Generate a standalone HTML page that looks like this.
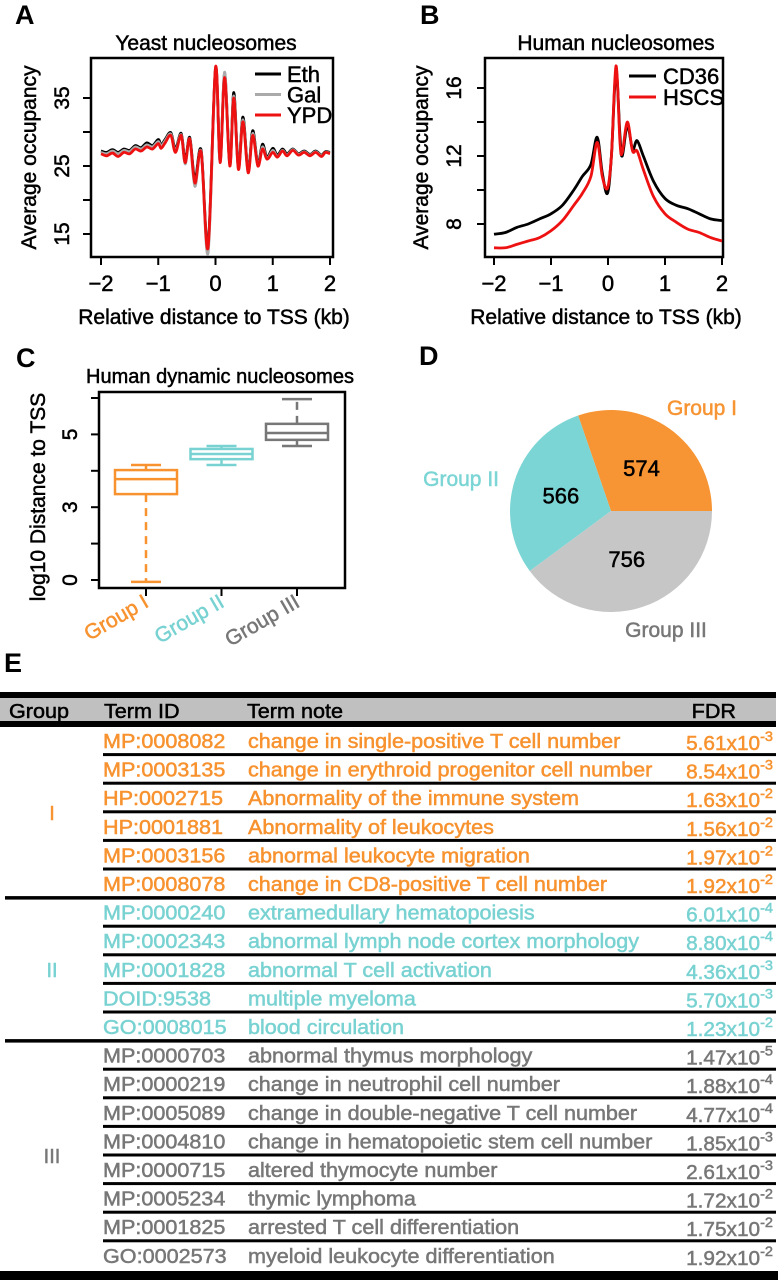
<!DOCTYPE html>
<html><head><meta charset="utf-8"><style>
html,body{margin:0;padding:0;background:#fff;}
svg{display:block;font-family:"Liberation Sans",Arial,sans-serif;}
</style></head><body>
<svg id="fig" width="778" height="1280" viewBox="0 0 778 1280" xmlns="http://www.w3.org/2000/svg">
<g id="gA"></g>
<g id="gB"></g>
<g id="gC"></g>
<g id="gD"></g>
<g id="gE"></g>
</svg>
<script>
// ---- Panel A data ----
const yeastX = [-2,-1.9,-1.8,-1.7,-1.6,-1.5,-1.4,-1.3,-1.2,-1.1,-1.0,-0.95,-0.88,-0.78,-0.7,-0.6,-0.53,-0.45,-0.36,-0.25,-0.13,0,0.08,0.16,0.25,0.32,0.40,0.48,0.57,0.65,0.74,0.82,0.90,1.0,1.08,1.17,1.25,1.35,1.45,1.55,1.65,1.75,1.85,1.92,2.0];
const yeastEth = [27.2,27.0,27.4,27.0,27.5,27.3,28.0,27.7,28.4,28.0,28.9,28.1,28.9,29.9,27.5,29.8,25.8,29.2,23.0,27.3,13.2,39.3,25.7,38.5,25.3,35.8,24.8,32.2,24.3,30.2,25.3,28.2,26.3,27.6,26.6,27.5,26.8,27.5,26.8,27.2,26.7,27.2,26.6,27.1,27.0];
const yeastGal = [27.0,26.8,27.2,26.8,27.3,27.1,27.8,27.5,28.1,27.8,28.6,27.9,28.7,29.7,27.2,29.6,25.3,29.0,22.0,27.1,12.2,39.0,25.6,38.8,25.2,35.3,24.6,31.8,24.1,29.8,25.1,27.8,26.1,27.3,26.4,27.3,26.6,27.4,26.7,27.1,26.6,27.1,26.5,27.0,26.9];
const yeastYPD = [26.8,26.5,26.9,26.4,27.0,26.8,27.5,27.2,27.8,27.5,28.3,27.6,28.4,29.5,27.0,29.5,25.5,29.0,22.5,27.0,13.0,39.5,25.5,38.0,25.0,35.0,24.5,31.5,24.0,29.5,25.0,27.5,26.0,27.0,26.3,27.2,26.5,27.3,26.6,27.0,26.5,27.0,26.4,27.0,26.8];
const yeastYTicks = [15,20,25,30,35];
const yeastYLabels = ["15","","25","","35"];
const xTicks = [-2,-1,0,1,2];
const xTickLabels = ["\u22122","\u22121","0","1","2"];
// ---- Panel B data ----
const humanX = [-2,-1.8,-1.6,-1.4,-1.2,-1.0,-0.8,-0.6,-0.45,-0.3,-0.19,-0.1,-0.01,0.06,0.14,0.21,0.25,0.34,0.43,0.51,0.62,0.8,1.0,1.2,1.4,1.6,1.8,2.0];
const humanCD36 = [7.4,7.5,7.8,8.0,8.3,8.6,9.1,10.0,10.8,11.5,13.1,11.0,9.8,12.0,17.0,13.2,12.0,13.8,12.4,12.9,12.0,10.5,9.5,9.1,8.9,8.6,8.3,8.2];
const humanHSCS = [6.6,6.6,6.8,7.0,7.2,7.6,8.2,9.1,9.8,10.8,12.8,10.8,10.1,12.0,17.3,12.8,12.2,14.0,12.3,12.3,11.2,9.6,8.6,8.1,7.7,7.5,7.2,7.0];
const humanYTicks = [8,10,12,14,16];
const humanYLabels = ["8","","12","","16"];
// ---- Panel C data (in axis tick units) ----
const boxGroups = ["Group I","Group II","Group III"];
const boxMin = [-0.05,3.16,3.68];
const boxQ1 = [2.36,3.32,3.85];
const boxMed = [2.77,3.46,4.04];
const boxQ3 = [3.02,3.60,4.29];
const boxMax = [3.16,3.68,4.97];
const boxYTicks = [0,1,2,3,4,5];
const boxYLabels = ["0","","3","","5",""];
// ---- Panel D data ----
const pieLabels = ["Group I","Group II","Group III"];
const pieValues = [574,566,756];
// ---- Panel E data ----
const rowGroup = [1,1,1,1,1,1,2,2,2,2,2,3,3,3,3,3,3,3,3];
const rowIds = ["MP:0008082","MP:0003135","HP:0002715","HP:0001881","MP:0003156","MP:0008078","MP:0000240","MP:0002343","MP:0001828","DOID:9538","GO:0008015","MP:0000703","MP:0000219","MP:0005089","MP:0004810","MP:0000715","MP:0005234","MP:0001825","GO:0002573"];
const rowNotes = ["change in single-positive T cell number","change in erythroid progenitor cell number","Abnormality of the immune system","Abnormality of leukocytes","abnormal leukocyte migration","change in CD8-positive T cell number","extramedullary hematopoiesis","abnormal lymph node cortex morphology","abnormal T cell activation","multiple myeloma","blood circulation","abnormal thymus morphology","change in neutrophil cell number","change in double-negative T cell number","change in hematopoietic stem cell number","altered thymocyte number","thymic lymphoma","arrested T cell differentiation","myeloid leukocyte differentiation"];
const rowFdrMant = ["5.61","8.54","1.63","1.56","1.97","1.92","6.01","8.80","4.36","5.70","1.23","1.47","1.88","4.77","1.85","2.61","1.72","1.75","1.92"];
const rowFdrExp = ["-3","-3","-2","-2","-2","-2","-4","-4","-3","-3","-2","-5","-4","-4","-3","-3","-2","-2","-2"];
const groupNames = ["I","II","III"];

const NS = "http://www.w3.org/2000/svg";
const ORANGE = "#f7922f", TEAL = "#79d2d2", GRAY = "#777777";
const groupColors = [ORANGE, TEAL, GRAY];

function mk(parent, tag, attrs, name) {
  const el = document.createElementNS(NS, tag);
  for (const k in attrs) el.setAttribute(k, attrs[k]);
  
  
  parent.appendChild(el);
  return el;
}
function txt(parent, x, y, s, size, name, opts) {
  opts = opts || {};
  const sx = opts.sx || 1;
  const rot = opts.rot || 0;
  const el = document.createElementNS(NS, 'text');
  el.setAttribute('transform', 'translate(' + x + ',' + y + ') rotate(' + rot + ') scale(' + sx + ',1)');
  el.setAttribute('font-size', size);
  el.setAttribute('fill', opts.fill || '#000');
  el.setAttribute('stroke', opts.fill || '#000');
  el.setAttribute('stroke-width', opts.weight ? 0 : 0.5);
  if (opts.anchor) el.setAttribute('text-anchor', opts.anchor);
  if (opts.weight) el.setAttribute('font-weight', opts.weight);
  el.textContent = s;
  
  
  parent.appendChild(el);
  return el;
}
function smooth(pts) {
  let d = 'M' + pts[0][0].toFixed(2) + ',' + pts[0][1].toFixed(2);
  for (let i = 0; i < pts.length - 1; i++) {
    const p0 = pts[i - 1] || pts[i], p1 = pts[i], p2 = pts[i + 1], p3 = pts[i + 2] || p2;
    const c1 = [p1[0] + (p2[0] - p0[0]) / 6, p1[1] + (p2[1] - p0[1]) / 6];
    const c2 = [p2[0] - (p3[0] - p1[0]) / 6, p2[1] - (p3[1] - p1[1]) / 6];
    d += ' C' + c1[0].toFixed(2) + ',' + c1[1].toFixed(2) + ' ' + c2[0].toFixed(2) + ',' + c2[1].toFixed(2) + ' ' + p2[0].toFixed(2) + ',' + p2[1].toFixed(2);
  }
  return d;
}
function lineChart(g, box, xs, yScale, xScale, yTicks, yLabels, series, title, titleX, panel, panelX, yTitleX, yTickLabX) {
  mk(g, 'rect', {x: box[0], y: box[1], width: box[2] - box[0], height: box[3] - box[1], fill: 'none', stroke: '#000', 'stroke-width': 2.5}, 'plot-frame');
  yTicks.forEach((t, i) => {
    const y = yScale(t);
    mk(g, 'line', {x1: box[0], x2: box[0] - 8, y1: y, y2: y, stroke: '#000', 'stroke-width': 2}, 'y-tick');
    if (yLabels[i]) txt(g, yTickLabX, y, yLabels[i], 21, 'y-tick-label', {rot: -90, anchor: 'middle'});
  });
  mk(g, 'line', {x1: box[0], x2: box[0], y1: yScale(yTicks[0]), y2: yScale(yTicks[yTicks.length - 1]), stroke: '#000', 'stroke-width': 2}, 'y-axis-line');
  xTicks.forEach((t, i) => {
    const x = xScale(t);
    mk(g, 'line', {x1: x, x2: x, y1: box[3], y2: box[3] + 8, stroke: '#000', 'stroke-width': 2}, 'x-tick');
    txt(g, x, box[3] + 34, xTickLabels[i], 22, 'x-tick-label', {anchor: 'middle'});
  });
  mk(g, 'line', {x1: xScale(-2), x2: xScale(2), y1: box[3], y2: box[3], stroke: '#000', 'stroke-width': 2}, 'x-axis-line');
  series.forEach(s => {
    const pts = xs.map((x, i) => [xScale(x), yScale(s.vals[i])]);
    mk(g, 'path', {d: smooth(pts), fill: 'none', stroke: s.color, 'stroke-width': 2.8, 'stroke-linejoin': 'round'}, s.name + '-line');
  });
  txt(g, titleX, 50, title, 21, 'chart-title', {anchor: 'middle'});
  txt(g, panelX, 24, panel, 27, 'panel-label', {weight: 'bold'});
  txt(g, yTitleX, (box[1] + box[3]) / 2, 'Average occupancy', 21, 'y-axis-title', {rot: -90, anchor: 'middle'});
  txt(g, (box[0] + box[2]) / 2 + 2, 324, 'Relative distance to TSS (kb)', 21, 'x-axis-title', {anchor: 'middle'});
}

// Panel A
(function () {
  const g = document.getElementById('gA');
  const xS = v => 101 + (v + 2) * (229 / 4);
  const yS = v => 166 - (v - 25) * 6.8;
  lineChart(g, [91, 58, 333, 257], yeastX, yS, xS, yeastYTicks, yeastYLabels,
    [{vals: yeastEth, color: '#000', name: 'eth'}, {vals: yeastGal, color: '#aaaaaa', name: 'gal'}, {vals: yeastYPD, color: '#ee1111', name: 'ypd'}],
    'Yeast nucleosomes', 206, 'A', 15, 36, 69);
  const leg = [['Eth', '#000'], ['Gal', '#aaaaaa'], ['YPD', '#ee1111']];
  leg.forEach((l, i) => {
    const y = 74 + i * 20.5;
    mk(g, 'line', {x1: 255, x2: 281, y1: y, y2: y, stroke: l[1], 'stroke-width': 3}, 'legend-swatch');
    txt(g, 287, y + 8, l[0], 22, 'legend-entry');
  });
})();
// Panel B
(function () {
  const g = document.getElementById('gB');
  const xS = v => 494 + (v + 2) * (228 / 4);
  const yS = v => 156 - (v - 12) * 17;
  lineChart(g, [485, 58, 723, 257], humanX, yS, xS, humanYTicks, humanYLabels,
    [{vals: humanCD36, color: '#000', name: 'cd36'}, {vals: humanHSCS, color: '#ee1111', name: 'hscs'}],
    'Human nucleosomes', 616, 'B', 420, 428, 461);
  const leg = [['CD36', '#000'], ['HSCS', '#ee1111']];
  leg.forEach((l, i) => {
    const y = 76 + i * 21;
    mk(g, 'line', {x1: 629, x2: 656, y1: y, y2: y, stroke: l[1], 'stroke-width': 3}, 'legend-swatch');
    txt(g, 663, y + 8, l[0], 22, 'legend-entry');
  });
})();
// Panel C
(function () {
  const g = document.getElementById('gC');
  const yS = v => 580 - v * 36.4;
  const xS = i => 146 + i * 75.5;
  mk(g, 'rect', {x: 99, y: 392, width: 246, height: 196, fill: 'none', stroke: '#000', 'stroke-width': 2.5}, 'plot-frame');
  boxYTicks.forEach((t, i) => {
    const y = yS(t);
    mk(g, 'line', {x1: 99, x2: 91, y1: y, y2: y, stroke: '#000', 'stroke-width': 2}, 'y-tick');
    if (boxYLabels[i]) txt(g, 77, y, boxYLabels[i], 21, 'y-tick-label', {rot: -90, anchor: 'middle'});
  });
  mk(g, 'line', {x1: 99, x2: 99, y1: yS(0), y2: yS(5), stroke: '#000', 'stroke-width': 2}, 'y-axis-line');
  boxGroups.forEach((name, i) => {
    const x = xS(i), c = groupColors[i], hw = 31;
    mk(g, 'line', {x1: x, x2: x, y1: 588, y2: 596, stroke: '#000', 'stroke-width': 2}, 'x-tick');
    mk(g, 'line', {x1: x, x2: x, y1: yS(boxQ1[i]), y2: yS(boxMin[i]), stroke: c, 'stroke-width': 2.5, 'stroke-dasharray': '8,6'}, 'lower-whisker');
    mk(g, 'line', {x1: x, x2: x, y1: yS(boxQ3[i]), y2: yS(boxMax[i]), stroke: c, 'stroke-width': 2.5, 'stroke-dasharray': '8,6'}, 'upper-whisker');
    mk(g, 'line', {x1: x - 15, x2: x + 15, y1: yS(boxMin[i]), y2: yS(boxMin[i]), stroke: c, 'stroke-width': 2.5}, 'whisker-cap-min');
    mk(g, 'line', {x1: x - 15, x2: x + 15, y1: yS(boxMax[i]), y2: yS(boxMax[i]), stroke: c, 'stroke-width': 2.5}, 'whisker-cap-max');
    mk(g, 'rect', {x: x - hw, y: yS(boxQ3[i]), width: 2 * hw, height: yS(boxQ1[i]) - yS(boxQ3[i]), fill: '#fff', stroke: c, 'stroke-width': 2.5}, 'box-' + (i + 1));
    mk(g, 'line', {x1: x - hw, x2: x + hw, y1: yS(boxMed[i]), y2: yS(boxMed[i]), stroke: c, 'stroke-width': 2.5}, 'median-line');
    txt(g, x + 4, 606, name, 21, 'x-category-label', {rot: -30, anchor: 'end', fill: c});
  });
  txt(g, 16, 367, 'C', 27, 'panel-label', {weight: 'bold'});
  txt(g, 220, 383, 'Human dynamic nucleosomes', 20, 'chart-title', {anchor: 'middle'});
  txt(g, 45, 497, 'log10 Distance to TSS', 21, 'y-axis-title', {rot: -90, anchor: 'middle'});
})();
// Panel D
(function () {
  const g = document.getElementById('gD');
  const cx = 611, cy = 511, r = 101;
  const pieColors = ['#f79433', '#7cd5d5', '#c6c6c6'];
  const total = pieValues.reduce((a, b) => a + b, 0);
  let a0 = 0;
  const labelPos = [[702, 415, 'middle'], [499, 486, 'end'], [666, 637, 'middle']];
  pieValues.forEach((v, i) => {
    const a1 = a0 + v / total * 2 * Math.PI;
    const p0 = [cx + r * Math.cos(a0), cy - r * Math.sin(a0)];
    const p1 = [cx + r * Math.cos(a1), cy - r * Math.sin(a1)];
    const large = (a1 - a0) > Math.PI ? 1 : 0;
    mk(g, 'path', {d: 'M' + cx + ',' + cy + ' L' + p0[0] + ',' + p0[1] + ' A' + r + ',' + r + ' 0 ' + large + ' 0 ' + p1[0] + ',' + p1[1] + ' Z', fill: pieColors[i]}, 'pie-slice-' + (i + 1));
    const am = (a0 + a1) / 2;
    const rr = i === 2 ? 0.5 : 0.52;
    txt(g, cx + rr * r * Math.cos(am), cy - rr * r * Math.sin(am) + 8, String(v), 22, 'slice-value', {anchor: 'middle'});
    txt(g, labelPos[i][0], labelPos[i][1], pieLabels[i], 21, 'slice-label', {anchor: labelPos[i][2], fill: i === 2 ? GRAY : pieColors[i]});
    a0 = a1;
  });
  txt(g, 419, 365, 'D', 27, 'panel-label', {weight: 'bold'});
})();
// Panel E
(function () {
  const g = document.getElementById('gE');
  const SX = 1.08;
  txt(g, 4, 672, 'E', 27, 'panel-label', {weight: 'bold'});
  mk(g, 'rect', {x: 0, y: 698, width: 776, height: 24, fill: '#c0c0c0'}, 'header-background');
  mk(g, 'rect', {x: 0, y: 692, width: 776, height: 6, fill: '#000'}, 'header-top-rule');
  mk(g, 'rect', {x: 0, y: 721, width: 776, height: 6, fill: '#000'}, 'header-bottom-rule');
  txt(g, 9, 718, 'Group', 20, 'header-group', {sx: SX});
  txt(g, 104, 718, 'Term ID', 20, 'header-term-id', {sx: SX});
  txt(g, 247, 718, 'Term note', 20, 'header-term-note', {sx: SX});
  txt(g, 736, 718, 'FDR', 20, 'header-fdr', {sx: SX, anchor: 'end'});
  const top = 727, pitch = 28.6;
  rowIds.forEach((id, i) => {
    const rt = top + i * pitch;
    const c = groupColors[rowGroup[i] - 1];
    txt(g, 103, rt + 21, id, 20, 'term-id-cell', {sx: SX, fill: c});
    txt(g, 248, rt + 21, rowNotes[i], 20, 'term-note-cell', {sx: SX, fill: c});
    const f = txt(g, 773, rt + 23, '', 20, 'fdr-cell', {sx: 1.04, fill: c, anchor: 'end'});
    const m = document.createElementNS(NS, 'tspan');
    m.textContent = rowFdrMant[i] + 'x10';
    f.appendChild(m);
    const e = document.createElementNS(NS, 'tspan');
    e.setAttribute('font-size', 14);
    e.setAttribute('dy', -9);
    e.textContent = rowFdrExp[i];
    f.appendChild(e);
    const last = i === rowIds.length - 1;
    const grpEnd = !last && rowGroup[i + 1] !== rowGroup[i];
    if (!last) {
      mk(g, 'rect', {x: grpEnd ? 5 : 103, y: rt + pitch - 2.5, width: grpEnd ? 771 : 673, height: grpEnd ? 3.5 : 3, fill: '#000'}, grpEnd ? 'group-separator' : 'row-rule');
    }
  });
  [1, 2, 3].forEach((gr, k) => {
    const idx = rowGroup.map((v, i) => v === gr ? i : -1).filter(i => i >= 0);
    const mid = top + (idx[0] + idx[idx.length - 1] + 1) / 2 * pitch;
    txt(g, 52, mid + 7, groupNames[k], 20, 'group-label', {anchor: 'middle', fill: groupColors[k]});
  });
  mk(g, 'rect', {x: 0, y: 1271, width: 778, height: 9, fill: '#000'}, 'table-bottom-rule');
})();
</script>
</body></html>
